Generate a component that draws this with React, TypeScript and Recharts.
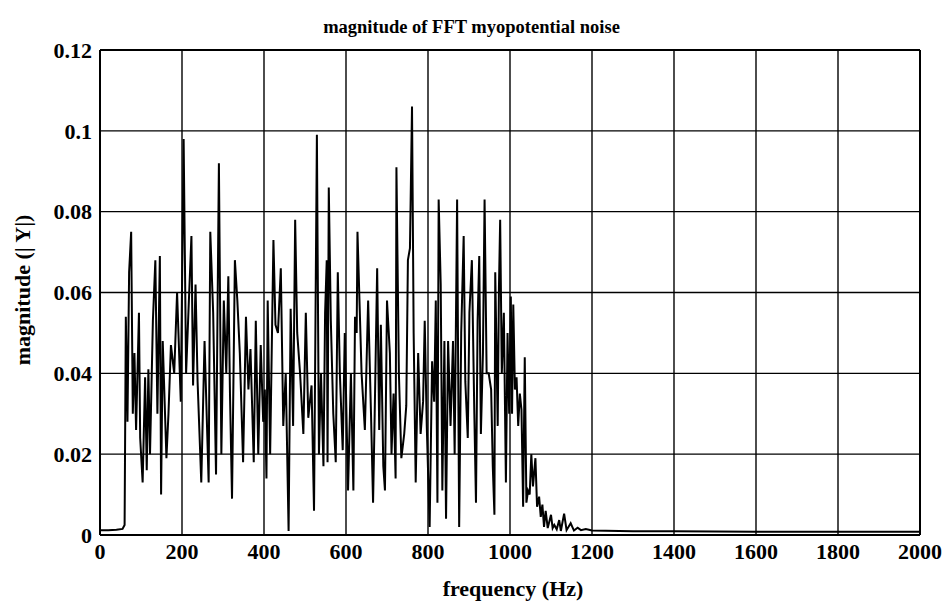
import React from 'react';
import { LineChart, Line, XAxis, YAxis, CartesianGrid, ReferenceLine } from 'recharts';

// values
const freqHz = [
  0, 20, 40, 55, 60, 63, 67, 71, 76, 80, 84, 88, 95, 98, 104, 110, 114, 118, 122, 129,
  135, 140, 146, 149, 153, 162, 167, 173, 181, 188, 197, 204, 210, 216, 223, 227, 233, 238, 247, 255,
  265, 269, 276, 283, 290, 296, 302, 308, 313, 317, 322, 329, 335, 341, 349, 356, 362, 367, 375, 380,
  386, 392, 398, 402, 406, 409, 415, 423, 428, 434, 441, 447, 453, 460, 465, 471, 476, 481, 488, 496,
  502, 508, 516, 522, 529, 534, 539, 545, 549, 553, 555, 558, 563, 569, 575, 580, 585, 592, 597, 605,
  612, 618, 622, 626, 628, 638, 646, 654, 661, 666, 670, 676, 681, 685, 691, 695, 700, 707, 711, 716,
  721, 723, 729, 735, 742, 747, 751, 756, 761, 765, 770, 776, 782, 788, 792, 797, 804, 810, 815, 819,
  823, 826, 831, 835, 840, 844, 849, 855, 861, 865, 871, 876, 881, 887, 891, 897, 901, 907, 913, 917,
  921, 925, 929, 934, 938, 943, 948, 954, 958, 962, 964, 970, 973, 976, 980, 985, 990, 994, 998, 1002,
  1005, 1008, 1012, 1016, 1020, 1024, 1028, 1032, 1036, 1040, 1044, 1048, 1052, 1056, 1062, 1066, 1071, 1075, 1079, 1083,
  1087, 1092, 1100, 1104, 1108, 1114, 1120, 1124, 1132, 1138, 1148, 1156, 1165, 1173, 1185, 1200, 1300, 1400, 1600, 1800,
  2000,
];

const magnitude = [
  0.0012, 0.0012, 0.0013, 0.0015, 0.0025, 0.054, 0.028, 0.065, 0.075, 0.03, 0.045, 0.026, 0.055, 0.024, 0.013, 0.039, 0.016, 0.041, 0.02, 0.053,
  0.068, 0.03, 0.069, 0.01, 0.048, 0.019, 0.03, 0.047, 0.04, 0.06, 0.033, 0.098, 0.04, 0.056, 0.074, 0.037, 0.062, 0.038, 0.013, 0.048,
  0.013, 0.075, 0.055, 0.015, 0.092, 0.02, 0.058, 0.04, 0.064, 0.035, 0.009, 0.068, 0.058, 0.045, 0.018, 0.054, 0.036, 0.046, 0.018, 0.053,
  0.02, 0.047, 0.028, 0.036, 0.014, 0.058, 0.02, 0.073, 0.052, 0.05, 0.066, 0.027, 0.04, 0.001, 0.056, 0.027, 0.078, 0.05, 0.04, 0.025,
  0.055, 0.029, 0.037, 0.006, 0.099, 0.02, 0.04, 0.017, 0.055, 0.068, 0.018, 0.086, 0.053, 0.03, 0.018, 0.065, 0.04, 0.021, 0.05, 0.011,
  0.04, 0.011, 0.054, 0.05, 0.075, 0.04, 0.026, 0.058, 0.03, 0.008, 0.03, 0.066, 0.026, 0.052, 0.017, 0.011, 0.058, 0.045, 0.02, 0.035,
  0.014, 0.091, 0.04, 0.019, 0.025, 0.032, 0.068, 0.071, 0.106, 0.05, 0.013, 0.045, 0.025, 0.033, 0.053, 0.027, 0.002, 0.043, 0.033, 0.058,
  0.008, 0.083, 0.062, 0.011, 0.048, 0.004, 0.048, 0.027, 0.048, 0.02, 0.083, 0.002, 0.05, 0.074, 0.038, 0.024, 0.055, 0.068, 0.03, 0.008,
  0.053, 0.069, 0.025, 0.045, 0.083, 0.04, 0.04, 0.036, 0.017, 0.005, 0.065, 0.027, 0.061, 0.078, 0.04, 0.055, 0.013, 0.05, 0.03, 0.059,
  0.03, 0.057, 0.036, 0.039, 0.027, 0.035, 0.031, 0.007, 0.044, 0.008, 0.011, 0.01, 0.02, 0.012, 0.019, 0.007, 0.0095, 0.0045, 0.0075, 0.002,
  0.006, 0.0017, 0.005, 0.0017, 0.0025, 0.0014, 0.0037, 0.001, 0.0053, 0.0012, 0.0029, 0.0011, 0.0018, 0.0012, 0.0015, 0.0011, 0.0009, 0.0009, 0.0008, 0.0008,
  0.0008,
];

const xTicks = [0, 200, 400, 600, 800, 1000, 1200, 1400, 1600, 1800, 2000];
const yTicks = [0, 0.02, 0.04, 0.06, 0.08, 0.1, 0.12];
const yTickLabels = ['0', '0.02', '0.04', '0.06', '0.08', '0.1', '0.12'];

const data = freqHz.map((f, i) => ({ f, y: magnitude[i] }));

const font = "'Liberation Serif', 'DejaVu Serif', serif";
const tickStyle = { fontSize: 22, fill: '#000', fontWeight: 700, fontFamily: font };

const App: React.FC = () => {
  return (
    <div style={{ position: 'absolute', left: 0, top: 0, width: 949, height: 607, background: '#fff', fontFamily: font }}>
      <div style={{ position: 'absolute', left: 0, width: 943, top: 17, textAlign: 'center', fontSize: 18.5, fontWeight: 700 }}>
        magnitude of FFT myopotential noise
      </div>
      <div style={{ position: 'absolute', left: 0, width: 1026, top: 576, textAlign: 'center', fontSize: 22, fontWeight: 700 }}>
        frequency (Hz)
      </div>
      <div
        style={{
          position: 'absolute', left: 23, top: 290, fontSize: 22, fontWeight: 700, whiteSpace: 'nowrap',
          transform: 'translate(-50%, -50%) rotate(-90deg)',
        }}
      >
        magnitude (| Y|)
      </div>
      <LineChart width={949} height={607} data={data} margin={{ top: 50, right: 29, bottom: 32, left: 30 }}>
        <CartesianGrid stroke="#000" strokeWidth={1.4} />
        <XAxis
          dataKey="f"
          type="number"
          domain={[0, 2000]}
          ticks={xTicks}
          height={40}
          tickLine={false}
          axisLine={{ stroke: '#000', strokeWidth: 2 }}
          tick={tickStyle}
          interval={0}
        />
        <YAxis
          type="number"
          domain={[0, 0.12]}
          ticks={yTicks}
          width={70}
          tickLine={false}
          axisLine={{ stroke: '#000', strokeWidth: 2 }}
          tick={tickStyle}
          interval={0}
          tickFormatter={(v: number) => yTickLabels[yTicks.indexOf(v)] ?? String(v)}
        />
        <ReferenceLine y={0.12} stroke="#000" strokeWidth={2} />
        <ReferenceLine x={2000} stroke="#000" strokeWidth={2} />
        <Line type="linear" dataKey="y" stroke="#000" strokeWidth={2} dot={false} isAnimationActive={false} />
      </LineChart>
    </div>
  );
};

export default App;
